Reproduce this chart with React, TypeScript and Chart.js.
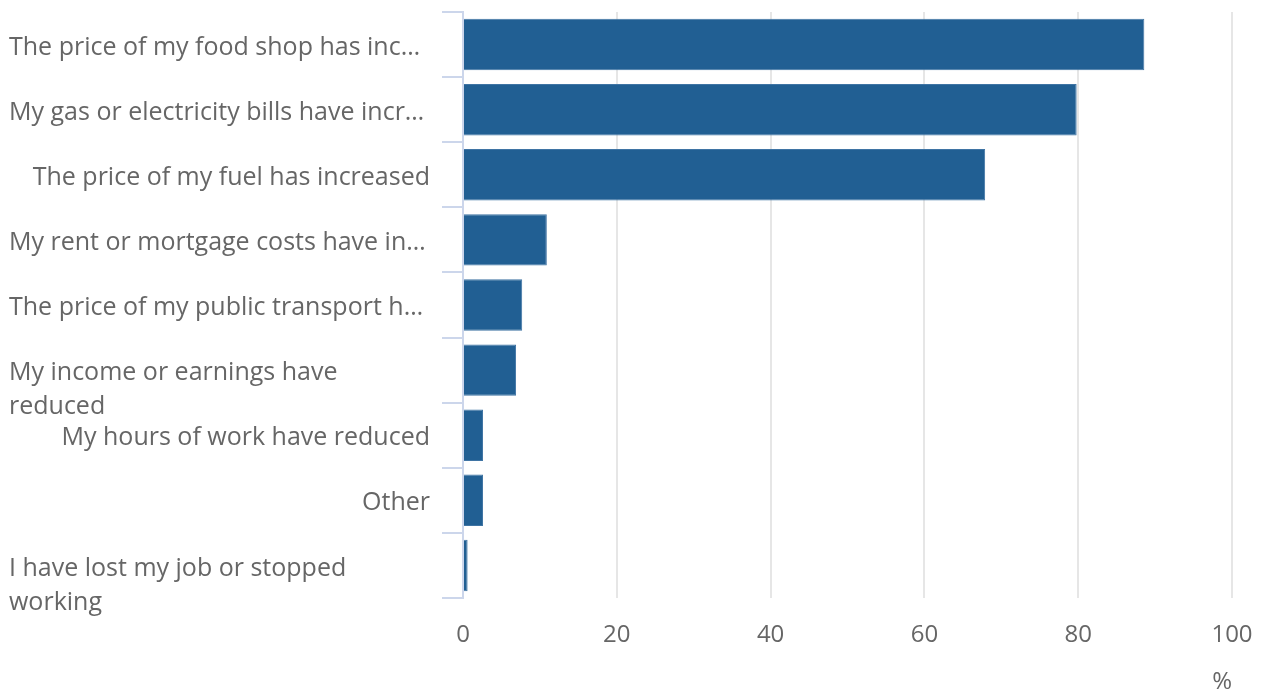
import React, { useEffect, useRef } from "react";
import { Chart, registerables } from "chart.js";

Chart.register(...registerables);

const categories: string[][] = [
  ["The price of my food shop has inc…"],
  ["My gas or electricity bills have incr…"],
  ["The price of my fuel has increased"],
  ["My rent or mortgage costs have in…"],
  ["The price of my public transport h…"],
  ["My income or earnings have", "reduced"],
  ["My hours of work have reduced"],
  ["Other"],
  ["I have lost my job or stopped", "working"],
];
const values: number[] = [88.6, 79.8, 67.9, 10.9, 7.7, 6.9, 2.6, 2.6, 0.6];
const xTickValues: number[] = [0, 20, 40, 60, 80, 100];
const xTitle = "%";

const FONT = "'Open Sans', 'Noto Sans', sans-serif";
const TEXT = "#666666";

const yLabelPlugin = {
  id: "yLabels",
  afterDraw(chart: any) {
    const y = chart.scales.y;
    const ctx = chart.ctx;
    ctx.save();
    ctx.font = `25px ${FONT}`;
    ctx.fillStyle = TEXT;
    ctx.textBaseline = "middle";
    categories.forEach((lines, i) => {
      const cy = y.getPixelForValue(i) + 3;
      const leftAligned = lines.length > 1 || lines[0].endsWith("…");
      ctx.textAlign = leftAligned ? "left" : "right";
      const x = leftAligned ? 9 : 430;
      lines.forEach((t, j) => ctx.fillText(t, x, cy + j * 34));
    });
    ctx.restore();
  },
};

export default function App() {
  const ref = useRef<HTMLCanvasElement | null>(null);
  useEffect(() => {
    document.body.style.margin = "0";
    if (!ref.current) return;
    const chart = new Chart(ref.current, {
      type: "bar",
      data: {
        labels: categories.map((l) => l.join(" ")),
        datasets: [
          {
            data: values,
            backgroundColor: "#215f93",
            borderColor: "#3f74a4",
            borderWidth: 1,
            barPercentage: 0.79,
            categoryPercentage: 1,
          },
        ],
      },
      options: {
        indexAxis: "y",
        animation: false,
        responsive: true,
        maintainAspectRatio: false,
        layout: { padding: { left: 0, right: 29, top: 12, bottom: 0 } },
        plugins: { legend: { display: false }, tooltip: { enabled: false } },
        scales: {
          x: {
            min: 0,
            max: 100,
            afterBuildTicks: (s: any) => {
              s.ticks = xTickValues.map((v) => ({ value: v }));
            },
            afterFit: (s: any) => {
              s.height = 92;
              s.paddingRight = 0;
              s.paddingLeft = 0;
            },
            grid: { color: "#e6e6e6", lineWidth: 2, drawTicks: false },
            border: { display: false },
            ticks: {
              padding: 23,
              color: TEXT,
              font: { family: FONT, size: 24 },
            },
            title: {
              display: true,
              text: xTitle,
              align: "end",
              color: TEXT,
              font: { family: FONT, size: 24, lineHeight: 1 },
              padding: { top: 19, bottom: -4 },
            },
          },
          y: {
            afterFit: (s: any) => {
              s.width = 463;
            },
            ticks: { display: false },
            grid: {
              offset: true,
              drawOnChartArea: false,
              drawTicks: true,
              tickLength: 21,
              color: "#ccd6eb",
              lineWidth: 2,
            },
            border: { display: true, color: "#ccd6eb", width: 2 },
          },
        },
      },
      plugins: [yLabelPlugin],
    });
    return () => chart.destroy();
  }, []);
  return (
    <div style={{ position: "relative", width: 1261, height: 690 }}>
      <canvas ref={ref} />
    </div>
  );
}
